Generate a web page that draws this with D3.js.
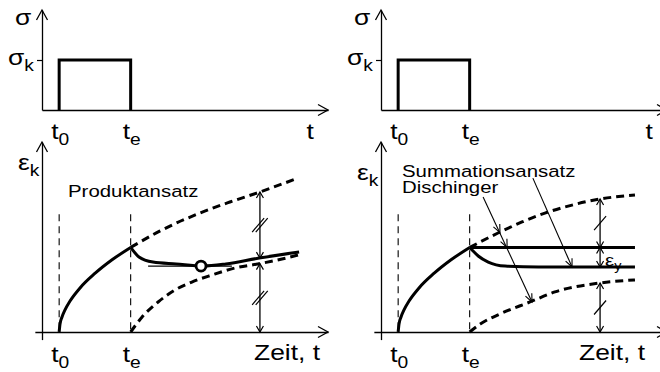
<!DOCTYPE html>
<html>
<head>
<meta charset="utf-8">
<script src="https://cdn.jsdelivr.net/npm/d3@7"></script>
<style>
  html, body { margin: 0; padding: 0; background: #fff; }
  svg { display: block; }
  text { font-family: "Liberation Sans", Arial, sans-serif; fill: #000; }
</style>
</head>
<body>
<svg id="chart" width="660" height="372"></svg>
<script>
// ---- load history: stress sigma_k applied at t0, removed at te ----
const loadTimes = [6, 31];            // t0, te
const timeLabels = ["0", "e"];        // subscripts of the time marks
const stressLevel = 1;                // sigma_k (relative)
const pulseT = [6, 6, 31, 31];
const pulseS = [0, 1, 1, 0];

// ---- creep strain while loaded (same in both panels) ----
const loadT = [6, 6.3, 7, 8, 9.8, 13.3, 18.5, 24.5, 31];
const loadE = [0, 4.2, 7.9, 11.5, 16.3, 23.2, 30.8, 38, 44.5];

// ---- Produktansatz ----
const prodContT = [31, 41.3, 55.2, 65.7, 76.2, 89.5];          // continued creep
const prodContE = [44.5, 53.2, 62.6, 68.4, 73.7, 81];
const prodUnlT = [31, 33.9, 38.8, 46.9, 56.3, 64.3, 75.9, 89.9]; // after unloading
const prodUnlE = [44.5, 39.5, 36.8, 35.8, 34.7, 35.8, 38.9, 42.1];
const prodRecT = [31, 35, 40.6, 46.5, 52.4, 59.4, 67.5, 75.5, 83.9, 89.5]; // mirrored creep from te
const prodRecE = [0, 7.9, 15.8, 22.1, 26.3, 30, 33.7, 35.8, 38.4, 40.5];
const prodMin = [55.6, 34.7];                                   // minimum of the unloading curve
const prodTangentT = [37.1, 66.4];
const prodGapT = 76.2;
const prodGapE = [73.7, 38.9, 36, 0];

// ---- Summationsansatz (Dischinger) ----
const sumContT = [31, 40.9, 49.3, 57.3, 66.8, 76.6, 88.8];
const sumContE = [44.5, 52.1, 57.9, 62.6, 66.8, 70, 72.1];
const sumHoldT = [31, 88.8];
const sumHoldE = [44.5, 44.5];
const sumUnlT = [31, 32.2, 34, 37.5, 43.4, 55, 88.8];
const sumUnlE = [44.5, 42.6, 40, 36.8, 34.7, 34.2, 34.2];
const sumRecT = [31, 34.7, 41.6, 52.1, 60.8, 76.6, 88.8];
const sumRecE = [0, 4.2, 9.5, 15.8, 21.1, 25.8, 27.4];
const sumGapT = 76.6;
const sumGapE = [70, 44.5, 34.2, 25.8, 0];

const svg = d3.select("#chart");
const INK = "#000";

function chevron(g, x, y, dx, dy, len, half, sw) {
  const n = Math.hypot(dx, dy); dx /= n; dy /= n;
  const px = -dy, py = dx;
  const bx = x - dx * len, by = y - dy * len;
  g.append("path")
    .attr("d", `M${bx + px * half},${by + py * half}L${x},${y}L${bx - px * half},${by - py * half}`)
    .attr("fill", "none").attr("stroke", INK).attr("stroke-width", sw)
    .attr("stroke-linejoin", "miter");
}

function label(g, x, y, main, sub, size, subSize, subDy, anchor) {
  const t = g.append("text")
    .attr("transform", `translate(${x},${y}) scale(1.2,1)`)
    .attr("font-size", size)
    .attr("text-anchor", anchor || "start");
  t.append("tspan").text(main);
  if (sub) t.append("tspan").attr("font-size", subSize).attr("dy", subDy).text(sub);
  return t;
}

function curve(g, x, y, ts, es, opts) {
  const line = d3.line().x(d => x(d[0])).y(d => y(d[1])).curve(d3.curveMonotoneX);
  const p = g.append("path").attr("d", line(d3.zip(ts, es)))
    .attr("fill", "none").attr("stroke", INK)
    .attr("stroke-width", opts.width || 3)
    .attr("stroke-linecap", "butt").attr("stroke-linejoin", "round");
  if (opts.dash) p.attr("stroke-dasharray", opts.dash);
  return p;
}

function dimension(g, x, y, t, e0, e1, slashes) {
  const X = x(t), Y0 = y(e0), Y1 = y(e1);
  g.append("line").attr("x1", X).attr("x2", X).attr("y1", Y0).attr("y2", Y1)
    .attr("stroke", INK).attr("stroke-width", 1.3);
  chevron(g, X, Y0, 0, Y0 - Y1, 6, 3.5, 1.2);
  chevron(g, X, Y1, 0, Y1 - Y0, 6, 3.5, 1.2);
  const m = (Y0 + Y1) / 2;
  const offs = slashes === 2 ? [-1.8, 1.8] : slashes === 1 ? [0] : [];
  offs.forEach(o => {
    g.append("line").attr("x1", X - 6 + o).attr("y1", m + 7).attr("x2", X + 6 + o).attr("y2", m - 7)
      .attr("stroke", INK).attr("stroke-width", 1.2);
  });
}

function panel(ox, kind) {
  const g = svg.append("g");
  const x = d3.scaleLinear().domain([0, 100]).range([ox, ox + 286]);
  const ys = d3.scaleLinear().domain([0, 2]).range([110, 10]);
  const ye = d3.scaleLinear().domain([0, 100]).range([332, 142]);

  // ---------- stress history ----------
  const yAxS = g.append("g").attr("transform", `translate(${ox},0)`)
    .call(d3.axisLeft(ys).tickValues([stressLevel]).tickSize(5).tickSizeOuter(0).tickFormat(""));
  const xAxS = g.append("g").attr("transform", `translate(0,${ys(0)})`)
    .call(d3.axisBottom(x).tickValues([]).tickSizeOuter(0));
  [yAxS, xAxS].forEach(a => {
    a.select(".domain").attr("stroke", INK).attr("stroke-width", 1.3);
    a.selectAll(".tick line").attr("stroke", INK).attr("stroke-width", 1.2);
  });
  chevron(g, ox, ys(2), 0, -1, 10, 5.5, 1.3);
  chevron(g, x(100), ys(0), 1, 0, 10, 5.5, 1.3);

  g.append("path")
    .attr("d", d3.line().x(d => x(d[0])).y(d => ys(d[1]))(d3.zip(pulseT, pulseS)))
    .attr("fill", "none").attr("stroke", INK).attr("stroke-width", 3).attr("stroke-linejoin", "miter");

  label(g, ox - 27, 25, "σ", null, 22);
  label(g, ox - 34, ys(stressLevel) + 5, "σ", "k", 22, 16, 6);
  loadTimes.forEach((t, i) => label(g, x(t) - 8, 139, "t", timeLabels[i], 22, 16, 6));
  label(g, x(92.5), 139, "t", null, 22);

  // ---------- strain response ----------
  const xAxE = x.copy().domain([-2.5, 100]).range([x(-2.5), x(100)]);
  const yAxE = ye.copy().domain([-4, 100]).range([ye(-4), ye(100)]);
  const ax1 = g.append("g").attr("transform", `translate(0,${ye(0)})`)
    .call(d3.axisBottom(xAxE).tickValues([]).tickSizeOuter(0));
  const ax2 = g.append("g").attr("transform", `translate(${ox},0)`)
    .call(d3.axisLeft(yAxE).tickValues([]).tickSizeOuter(0));
  [ax1, ax2].forEach(a => a.select(".domain").attr("stroke", INK).attr("stroke-width", 1.3));
  chevron(g, ox, ye(100), 0, -1, 10, 5.5, 1.3);
  chevron(g, x(100), ye(0), 1, 0, 10, 5.5, 1.3);

  loadTimes.forEach(t => {
    g.append("line").attr("x1", x(t)).attr("x2", x(t)).attr("y1", ye(62)).attr("y2", ye(0))
      .attr("stroke", INK).attr("stroke-width", 1.1).attr("stroke-dasharray", "7,5");
  });

  curve(g, x, ye, loadT, loadE, {});

  if (kind === "prod") {
    curve(g, x, ye, prodContT, prodContE, { dash: "8,5" });
    curve(g, x, ye, prodRecT, prodRecE, { dash: "8,5" });
    g.append("line").attr("x1", x(prodTangentT[0])).attr("x2", x(prodTangentT[1]))
      .attr("y1", ye(prodMin[1])).attr("y2", ye(prodMin[1]))
      .attr("stroke", INK).attr("stroke-width", 1.3);
    curve(g, x, ye, prodUnlT, prodUnlE, {});
    g.append("circle").attr("cx", x(prodMin[0])).attr("cy", ye(prodMin[1])).attr("r", 5)
      .attr("fill", "#fff").attr("stroke", INK).attr("stroke-width", 2.8);
    dimension(g, x, ye, prodGapT, prodGapE[0], prodGapE[1], 2);
    dimension(g, x, ye, prodGapT, prodGapE[2], prodGapE[3], 2);
    label(g, 68, 197, "Produktansatz", null, 17);
  } else {
    curve(g, x, ye, sumContT, sumContE, { dash: "8,5" });
    curve(g, x, ye, sumRecT, sumRecE, { dash: "8,5" });
    curve(g, x, ye, sumHoldT, sumHoldE, {});
    curve(g, x, ye, sumUnlT, sumUnlE, {});
    dimension(g, x, ye, sumGapT, sumGapE[0], sumGapE[1], 1);
    dimension(g, x, ye, sumGapT, sumGapE[1], sumGapE[2], 0);
    dimension(g, x, ye, sumGapT, sumGapE[3], sumGapE[4], 1);
    label(g, x(sumGapT) + 5, 266, "ε", "y", 17, 12, 4);

    label(g, 402, 177, "Summationsansatz", null, 17);
    label(g, 402, 193, "Dischinger", null, 17);

    // pointer from "Summationsansatz" to the unloading curve
    const s0 = [x(53.1), ye(81)], s1 = [x(66.8), ye(34.2)];
    g.append("line").attr("x1", s0[0]).attr("y1", s0[1]).attr("x2", s1[0]).attr("y2", s1[1])
      .attr("stroke", INK).attr("stroke-width", 1.1);
    chevron(g, s1[0], s1[1], s1[0] - s0[0], s1[1] - s0[1], 8, 3.5, 1.1);

    // pointer from "Dischinger" through the Dischinger curves
    const d0 = [x(35.7), ye(71)], d1 = [x(52.8), ye(15.8)];
    g.append("line").attr("x1", d0[0]).attr("y1", d0[1]).attr("x2", d1[0]).attr("y2", d1[1])
      .attr("stroke", INK).attr("stroke-width", 1.1);
    [[41.6, 52.3], [44.1, 44.5], [52.8, 15.8]].forEach(p => {
      chevron(g, x(p[0]), ye(p[1]), d1[0] - d0[0], d1[1] - d0[1], 8, 3.5, 1.1);
    });
  }

  label(g, ox - 24, kind === "prod" ? 170 : 180, "ε", "k", 22, 16, 6);
  loadTimes.forEach((t, i) => label(g, x(t) - 8, 362, "t", timeLabels[i], 22, 16, 6));
  label(g, kind === "prod" ? 320 : 645, 360, "Zeit, t", null, 22, null, null, "end");
}

panel(42, "prod");
panel(381, "sum");
</script>
</body>
</html>
